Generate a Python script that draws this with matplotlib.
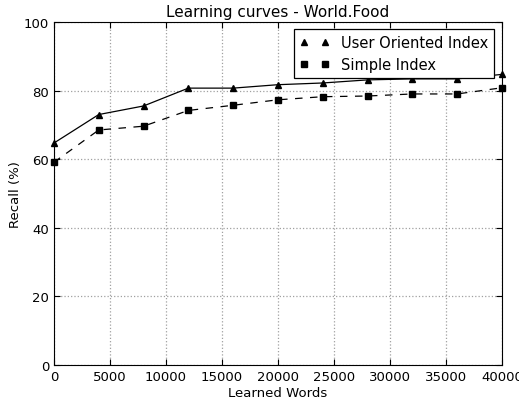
import numpy as np
import matplotlib
matplotlib.use("Agg")
import matplotlib.pyplot as plt

# learned words (x) and recall in percent for each index
words = [0, 4000, 8000, 12000, 16000, 20000, 24000, 28000, 32000, 36000, 40000]
user_oriented = [64.7, 73.0, 75.5, 80.7, 80.7, 81.7, 82.2, 83.1, 83.4, 83.4, 84.7]
simple_index = [59.1, 68.5, 69.6, 74.2, 75.7, 77.3, 78.2, 78.4, 79.0, 79.0, 80.8]

fig = plt.figure(figsize=(5.19, 4.02), dpi=100)
ax = fig.add_axes([0.104, 0.0896, 0.863, 0.8534])

# lines first, markers on top with the labels
ax.plot(words, user_oriented, color='black', linestyle='-', linewidth=0.9)
ax.plot(words, simple_index, color='black', linestyle='--', linewidth=0.9, dashes=(6, 6))
ax.plot(words, user_oriented, color='black', linestyle='none', marker='^',
        markersize=4.5, label='User Oriented Index', clip_on=False)
ax.plot(words, simple_index, color='black', linestyle='none', marker='s',
        markersize=4.2, label='Simple Index', clip_on=False)

ax.set_xlim(0, 40000)
ax.set_ylim(0, 100)
ax.set_xticks(np.arange(0, 40001, 5000))
ax.set_yticks(np.arange(0, 101, 20))
ax.tick_params(direction='in', top=True, right=True, labelsize=9.5, length=4)
ax.grid(True, linestyle=':', color='#a0a0a0', linewidth=0.9)

ax.set_title('Learning curves - World.Food', fontsize=11, pad=4)
ax.set_xlabel('Learned Words', fontsize=9.5, labelpad=2)
ax.set_ylabel('Recall (%)', fontsize=9.5, labelpad=1)

leg = ax.legend(loc='upper right', numpoints=2, fontsize=10.5, fancybox=False,
                framealpha=1, borderaxespad=0, handlelength=2.0,
                bbox_to_anchor=(0.982, 0.980))
leg.get_frame().set_edgecolor('black')
leg.get_frame().set_linewidth(0.9)

fig.savefig('out.png', dpi=100, facecolor='white')
